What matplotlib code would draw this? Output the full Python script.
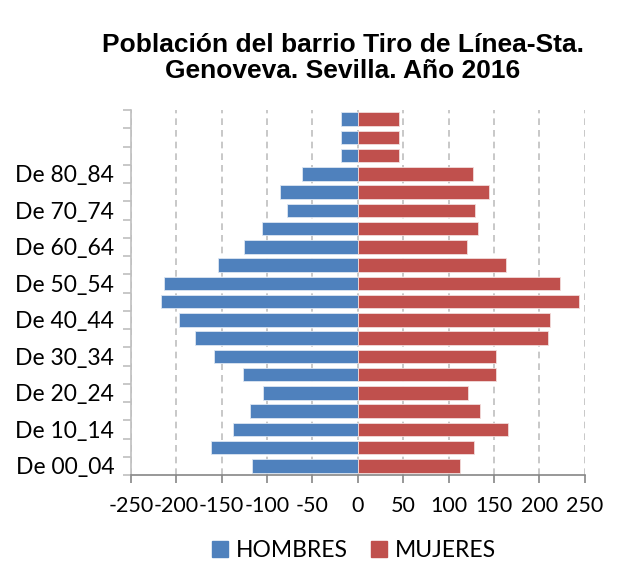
import numpy as np
import matplotlib
matplotlib.use("Agg")
import matplotlib.pyplot as plt
from matplotlib.patches import Patch

# grupos de edad (los tres últimos sin rótulo en el original)
grupos = ["De 00_04", "De 05_09", "De 10_14", "De 15_19", "De 20_24",
          "De 25_29", "De 30_34", "De 35_39", "De 40_44", "De 45_49",
          "De 50_54", "De 55_59", "De 60_64", "De 65_69", "De 70_74",
          "De 75_79", "De 80_84", "", "", ""]
hombres = [-116, -162, -137, -119, -104, -127, -158, -179, -197, -217,
           -213, -154, -125, -105, -78, -86, -62, -18, -18, -18]
mujeres = [113, 128, 165, 135, 121, 152, 152, 209, 212, 244,
           223, 163, 120, 132, 129, 144, 127, 45, 45, 45]
xticks = [-250, -200, -150, -100, -50, 0, 50, 100, 150, 200, 250]

azul = "#4F81BD"
rojo = "#C0504D"

plt.rcParams['font.family'] = ['Lato', 'DejaVu Sans']

fig = plt.figure(figsize=(6.35, 5.73), dpi=100)
ax = fig.add_axes([0.206, 0.171, 0.715, 0.637])

y = np.arange(len(grupos))
ax.barh(y, hombres, height=0.73, color=azul, edgecolor="#DCE6F2", linewidth=0.6, zorder=3)
ax.barh(y, mujeres, height=0.73, color=rojo, edgecolor="#F2DCDB", linewidth=0.6, zorder=3)

ax.set_xlim(-250, 250)
ax.set_ylim(-0.5, len(grupos) - 0.5)

# rejilla vertical discontinua
ax.set_xticks(xticks)
ax.set_xticklabels([str(v) for v in xticks], fontsize=15.5)
ax.xaxis.grid(True, linestyle=(0, (4, 3)), color="#BFBFBF", linewidth=1.2, zorder=0)
ax.tick_params(axis="x", length=6, color="#868686", width=1.2, pad=9)

# marcas en los limites de categoria, rotulos alternos en el centro
ax.set_yticks(np.arange(-0.5, len(grupos), 1.0))
ax.set_yticklabels([])
ax.tick_params(axis="y", which="major", length=6, color="#BFBFBF", width=1.2)
ax.set_yticks(y[::2], minor=True)
ax.set_yticklabels(grupos[::2], minor=True, fontsize=16.5)
ax.tick_params(axis="y", which="minor", length=0, pad=12)

for s in ["top", "right"]:
    ax.spines[s].set_visible(False)
ax.spines["left"].set_color("#BFBFBF")
ax.spines["left"].set_linewidth(1.2)
ax.spines["bottom"].set_color("#868686")
ax.spines["bottom"].set_linewidth(1.2)

fig.text(0.54, 0.899, "Población del barrio Tiro de Línea-Sta.\nGenoveva. Sevilla. Año 2016",
         ha="center", va="center", fontsize=19, fontweight="bold",
         family=["Liberation Sans", "DejaVu Sans"], linespacing=1.12)

handles = [Patch(color=azul, label="HOMBRES"), Patch(color=rojo, label="MUJERES")]
fig.legend(handles=handles, loc="center", bbox_to_anchor=(0.558, 0.04), ncol=2,
           frameon=False, fontsize=16.5, handlelength=0.7, handleheight=0.7,
           handletextpad=0.35, columnspacing=1.0)

fig.savefig("out.png", dpi=100)
